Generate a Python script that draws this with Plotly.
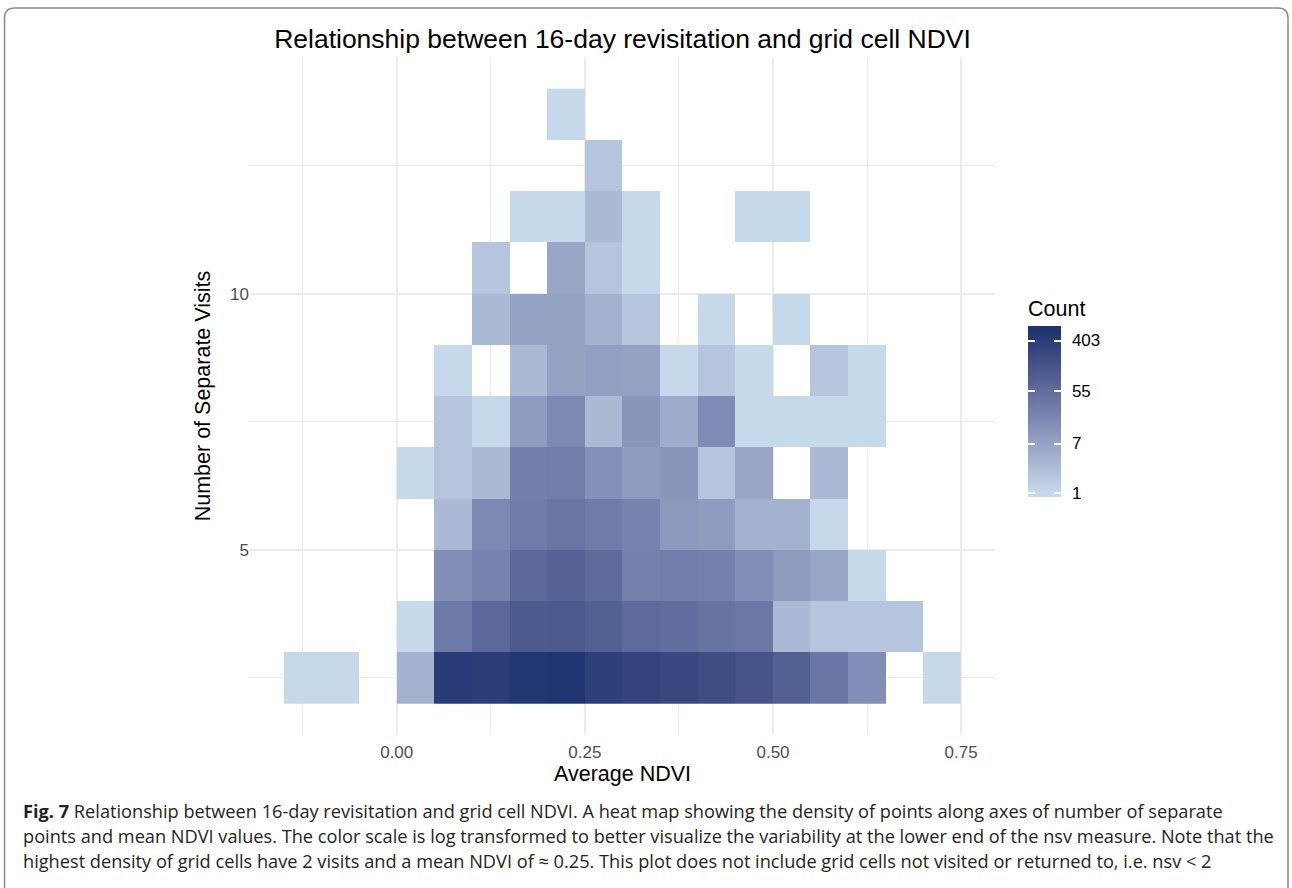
import numpy as np
import plotly.graph_objects as go

# ---------------- data ----------------
ndvi_bins = [-0.125, -0.075, -0.025, 0.025, 0.075, 0.125, 0.175, 0.225, 0.275,
             0.325, 0.375, 0.425, 0.475, 0.525, 0.575, 0.625, 0.675, 0.725]
nsv_bins = [2.5, 3.5, 4.5, 5.5, 6.5, 7.5, 8.5, 9.5, 10.5, 11.5, 12.5, 13.5]
N = None
count_nsv2 = [1, 1, N, 4, 420, 400, 530, 593, 370, 300, 250, 200, 150, 92, 37, 15, N, 1]
count_nsv3 = [N, N, N, 1, 33, 66, 115, 118, 92, 60, 50, 41, 35, 3, 2, 2, 2, N]
count_nsv4 = [N, N, N, N, 15, 23, 62, 79, 59, 24, 28, 24, 15, 9, 6, 1, N, N]
count_nsv5 = [N, N, N, N, 3, 18, 31, 38, 31, 23, 10, 9, 4, 4, 1, N, N, N]
count_nsv6 = [N, N, N, 1, 2, 3, 25, 28, 14, 9, 11, 2, 6, N, 3, N, N, N]
count_nsv7 = [N, N, N, N, 2, 1, 9, 18, 3, 11, 5, 16, 1, 1, 1, 1, N, N]
count_nsv8 = [N, N, N, N, 1, N, 3, 7, 8, 7, 1, 2, 1, N, 2, 1, N, N]
count_nsv9 = [N, N, N, N, N, 3, 7, 7, 4, 2, N, 1, N, 1, N, N, N, N]
count_nsv10 = [N, N, N, N, N, 2, N, 6, 2, 1, N, N, N, N, N, N, N, N]
count_nsv11 = [N, N, N, N, N, N, 1, 1, 3, 1, N, N, 1, 1, N, N, N, N]
count_nsv12 = [N, N, N, N, N, N, N, N, 2, N, N, N, N, N, N, N, N, N]
count_nsv13 = [N, N, N, N, N, N, N, 1, N, N, N, N, N, N, N, N, N, N]

x_ticks = [0, 0.25, 0.5, 0.75]
x_ticktext = ["0.00", "0.25", "0.50", "0.75"]
y_ticks = [5, 10]
y_ticktext = ["5", "10"]
legend_breaks = [1, 7, 55, 403]

title_text = "Relationship between 16-day revisitation and grid cell NDVI"
caption_lines = [
    "<b>Fig. 7</b> Relationship between 16-day revisitation and grid cell NDVI. A heat map showing the density of points along axes of number of separate",
    "points and mean NDVI values. The color scale is log transformed to better visualize the variability at the lower end of the nsv measure. Note that the",
    "highest density of grid cells have 2 visits and a mean NDVI of \u2248 0.25. This plot does not include grid cells not visited or returned to, i.e. nsv &lt; 2",
]

# ---------------- colour scale (ggplot-like Lab interpolation) ----------------
LOW, HIGH = "#c6d9eb", "#1f3471"

def _hex2rgb(h):
    h = h.lstrip("#")
    return [int(h[i:i + 2], 16) / 255 for i in (0, 2, 4)]

def _lin(c):
    return c / 12.92 if c <= 0.04045 else ((c + 0.055) / 1.055) ** 2.4

def _delin(c):
    c = max(0.0, min(1.0, c))
    return 12.92 * c if c <= 0.0031308 else 1.055 * c ** (1 / 2.4) - 0.055

def rgb2lab(h):
    r, g, b = [_lin(c) for c in _hex2rgb(h)]
    X = (0.4124 * r + 0.3576 * g + 0.1805 * b) / 0.95047
    Y = (0.2126 * r + 0.7152 * g + 0.0722 * b)
    Z = (0.0193 * r + 0.1192 * g + 0.9505 * b) / 1.08883
    f = lambda t: t ** (1 / 3) if t > 0.008856 else 7.787 * t + 16 / 116
    fx, fy, fz = f(X), f(Y), f(Z)
    return (116 * fy - 16, 500 * (fx - fy), 200 * (fy - fz))

def lab2hex(L, a, b):
    fy = (L + 16) / 116
    fx = fy + a / 500
    fz = fy - b / 200
    finv = lambda t: t ** 3 if t ** 3 > 0.008856 else (t - 16 / 116) / 7.787
    X, Y, Z = finv(fx) * 0.95047, finv(fy), finv(fz) * 1.08883
    r = 3.2406 * X - 1.5372 * Y - 0.4986 * Z
    g = -0.9689 * X + 1.8758 * Y + 0.0415 * Z
    bb = 0.0557 * X - 0.2040 * Y + 1.0570 * Z
    return "#%02x%02x%02x" % tuple(int(round(_delin(c) * 255)) for c in (r, g, bb))

counts = np.array([count_nsv2, count_nsv3, count_nsv4, count_nsv5, count_nsv6, count_nsv7,
                   count_nsv8, count_nsv9, count_nsv10, count_nsv11, count_nsv12, count_nsv13],
                  dtype=float)
logz = np.log(counts)
L = np.nanmax(logz)
nbin = 20
pad = L * 0.5 / (nbin - 1)          # ggplot colourbar end offset
zmin, zmax = -pad, L + pad
p0 = pad / (zmax - zmin)
lab_lo, lab_hi = rgb2lab(LOW), rgb2lab(HIGH)
colorscale = [[0.0, LOW]]
nstops = 12
for i in range(nstops + 1):
    t = i / nstops
    lab = [lo + (hi - lo) * t for lo, hi in zip(lab_lo, lab_hi)]
    colorscale.append([p0 + (1 - 2 * p0) * t, lab2hex(*lab)])
colorscale.append([1.0, HIGH])

# ---------------- geometry helpers ----------------
W, H = 1292, 888
ML, MR, MT, MB = 250, 297, 58, 154
PW, PH = W - ML - MR, H - MT - MB

def px(xp):
    return (xp - ML) / PW

def py(yp):
    return (H - MB - yp) / PH

FONT = "Liberation Sans, Arial, Helvetica, sans-serif"
GRID = "#ebebeb"

fig = go.Figure()
CB_LEN, CB_W, CB_TITLE = 170, 33, 30
CB_LEFT, CB_BOTTOM = 1028, 497
TICK_LEN = 6.6
tickvals = list(np.log(legend_breaks))
fig.add_trace(go.Heatmap(
    x=ndvi_bins, y=nsv_bins, z=logz,
    zmin=zmin, zmax=zmax, colorscale=colorscale,
    hoverongaps=False, xgap=0, ygap=0,
    colorbar=dict(
        title=dict(text="Count", side="top", font=dict(family=FONT, size=21.5, color="black")),
        tickvals=tickvals, ticktext=[str(v) for v in legend_breaks],
        ticks="outside", ticklen=8, tickwidth=1, tickcolor="rgba(0,0,0,0)",
        tickfont=dict(family=FONT, size=17, color="black"),
        x=px(CB_LEFT), xanchor="left", xpad=0, xref="paper",
        y=py(CB_BOTTOM), yanchor="bottom", ypad=0, yref="paper",
        lenmode="pixels", len=CB_LEN + CB_TITLE, thickness=CB_W, thicknessmode="pixels",
        outlinewidth=0, bgcolor="rgba(0,0,0,0)",
    ),
))

# thin overlay strips of the same colour bar carrying the white ggplot-style ticks
for strip_left in (CB_LEFT, CB_LEFT + CB_W - TICK_LEN):
    fig.add_trace(go.Scatter(
        x=[None], y=[None], mode="markers", hoverinfo="skip", showlegend=False,
        marker=dict(color=[0], cmin=zmin, cmax=zmax, colorscale=colorscale, showscale=True,
                    colorbar=dict(
                        tickvals=tickvals, ticktext=[""] * len(tickvals), showticklabels=False,
                        ticks="inside", ticklen=TICK_LEN, tickwidth=1.5, tickcolor="white",
                        x=px(strip_left), xanchor="left", xpad=0, xref="paper",
                        y=py(CB_BOTTOM), yanchor="bottom", ypad=0, yref="paper",
                        lenmode="pixels", len=CB_LEN, thickness=TICK_LEN, thicknessmode="pixels",
                        outlinewidth=0, bgcolor="rgba(0,0,0,0)")),
    ))

shapes = []
# rounded outer frame
xl, xr, yt, yb, r = 4.5, 1288, 8, 900, 10
path = (f"M {px(xl)},{py(yb)} L {px(xl)},{py(yt + r)} Q {px(xl)},{py(yt)} {px(xl + r)},{py(yt)} "
        f"L {px(xr - r)},{py(yt)} Q {px(xr)},{py(yt)} {px(xr)},{py(yt + r)} L {px(xr)},{py(yb)}")
shapes.append(dict(type="path", xref="paper", yref="paper", path=path,
                   line=dict(color="#8a8a8a", width=1.5)))

annotations = []
cap_y = [811, 836, 861]
for line, yy in zip(caption_lines, cap_y):
    annotations.append(dict(text=line, xref="paper", yref="paper", x=px(21), y=py(yy),
                            xanchor="left", yanchor="middle", showarrow=False,
                            font=dict(family="Open Sans, Noto Sans, sans-serif", size=18.2, color="#231f20")))

fig.update_layout(
    width=W, height=H, autosize=False,
    margin=dict(l=ML, r=MR, t=MT, b=MB, autoexpand=False),
    paper_bgcolor="white", plot_bgcolor="white",
    font=dict(family=FONT),
    showlegend=False,
    title=dict(text=title_text, x=0.5, xref="paper", xanchor="center",
               y=1 - 39 / H, yref="container", yanchor="middle",
               font=dict(family=FONT, size=26.5, color="black")),
    xaxis=dict(range=[-0.195, 0.795], tickvals=x_ticks, ticktext=x_ticktext,
               showgrid=True, gridcolor=GRID, gridwidth=2.2, zeroline=False, showline=False,
               ticks="outside", ticklen=3, tickcolor="rgba(0,0,0,0)",
               tickfont=dict(family=FONT, size=17, color="#4d4d4d"),
               minor=dict(tickvals=[-0.125, 0.125, 0.375, 0.625], showgrid=True,
                          gridcolor=GRID, gridwidth=1.2, ticks=""),
               title=dict(text="Average NDVI", font=dict(family=FONT, size=21.5, color="black"),
                          standoff=3)),
    yaxis=dict(range=[1.4, 14.6], tickvals=y_ticks, ticktext=y_ticktext,
               showgrid=True, gridcolor=GRID, gridwidth=2.2, zeroline=False, showline=False,
               ticks="", tickfont=dict(family=FONT, size=17, color="#4d4d4d"),
               minor=dict(tickvals=[2.5, 7.5, 12.5], showgrid=True,
                          gridcolor=GRID, gridwidth=1.2, ticks=""),
               title=dict(text="Number of Separate Visits", font=dict(family=FONT, size=21.5, color="black"),
                          standoff=13)),
    shapes=shapes,
    annotations=annotations,
)

fig.write_html("out.html", config={"displayModeBar": False},
               post_script="document.body.style.margin='0';")
